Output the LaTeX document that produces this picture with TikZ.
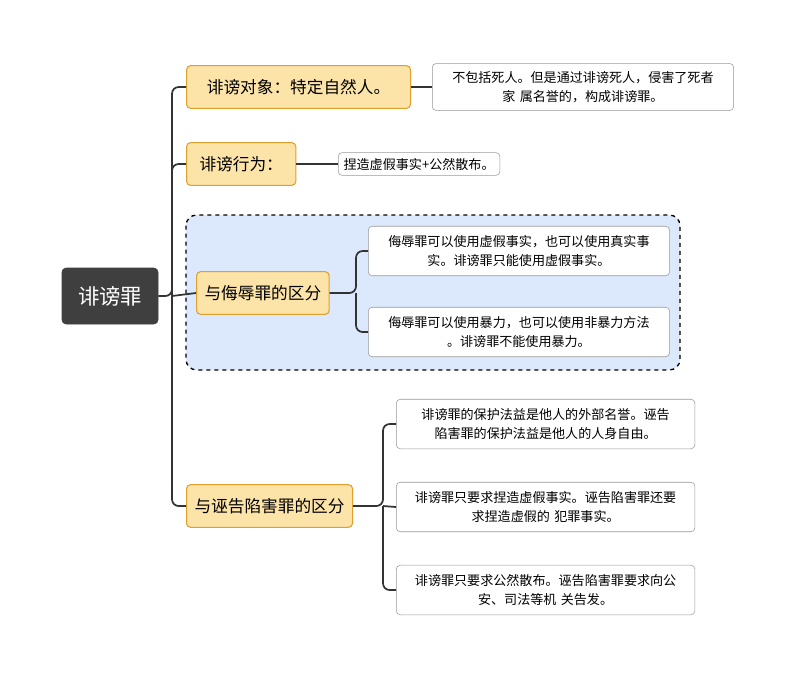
\documentclass[tikz,border=0pt]{standalone}
\usepackage{fontspec}
\setmainfont{Noto Sans CJK SC}
\usetikzlibrary{positioning}
\definecolor{rootfill}{HTML}{3F3F3F}
\definecolor{brfill}{HTML}{FCE3A8}
\definecolor{brline}{HTML}{E0A030}
\definecolor{grpfill}{HTML}{DCE8FC}
\definecolor{lnk}{HTML}{333333}
\tikzset{
    root/.style={draw=rootfill, fill=rootfill, rounded corners=3pt, text=white,
        minimum width=72pt, minimum height=42pt, font=\fontsize{16}{18}\selectfont},
    branch/.style={draw=brline, fill=brfill, rounded corners=3pt, line width=0.8pt,
        minimum height=32pt, inner xsep=6pt, font=\fontsize{12.5}{14}\selectfont, anchor=west},
    leaf/.style={draw=gray!80, fill=white, rounded corners=3pt, anchor=west,
        align=center, inner xsep=4pt, inner ysep=7pt, font=\fontsize{9.8}{14}\selectfont},
    link/.style={draw=lnk, line width=1.3pt, rounded corners=5pt}
}
\begin{document}
\begin{tikzpicture}[x=0.75pt, y=-0.75pt]
    \useasboundingbox (0,0) rectangle (793,675);

    % group background
    \draw[dashed, line width=1pt, fill=grpfill, rounded corners=8pt] (186,215) rectangle (680,370);

    \node[root] (r) at (110,296) {诽谤罪};

    \node[branch, minimum width=168pt] (b1) at (186,87) {诽谤对象：特定自然人。};
    \node[branch, minimum width=82pt] (b2) at (186,164) {诽谤行为：};
    \node[branch] (b3) at (196,293) {与侮辱罪的区分};
    \node[branch] (b4) at (186,506) {与诬告陷害罪的区分};

    \node[leaf, text width=218pt, inner ysep=6pt] (l1) at (432,87) {不包括死人。但是通过诽谤死人，侵害了死者\\家 属名誉的，构成诽谤罪。};
    \node[leaf, inner ysep=4pt] (l2) at (338,164) {捏造虚假事实+公然散布。};
    \node[leaf, text width=218pt] (l3) at (368,251) {侮辱罪可以使用虚假事实，也可以使用真实事\\实。诽谤罪只能使用虚假事实。};
    \node[leaf, text width=218pt] (l4) at (368,332) {侮辱罪可以使用暴力，也可以使用非暴力方法\\。诽谤罪不能使用暴力。};
    \node[leaf, text width=216pt] (l5) at (396,424) {诽谤罪的保护法益是他人的外部名誉。诬告\\陷害罪的保护法益是他人的人身自由。};
    \node[leaf, text width=216pt] (l6) at (396,507) {诽谤罪只要求捏造虚假事实。诬告陷害罪还要\\求捏造虚假的 犯罪事实。};
    \node[leaf, text width=216pt] (l7) at (396,590) {诽谤罪只要求公然散布。诬告陷害罪要求向公\\安、司法等机 关告发。};

    % connectors
    \draw[link] (r.east) -- (172,296) |- (b1.west);
    \draw[link] (172,296) |- (b2.west);
    \draw[link] (172,296) -- (b3.west);
    \draw[link] (172,296) |- (b4.west);
    \draw[link] (b1.east) -- (l1.west);
    \draw[link] (b2.east) -- (l2.west);
    \draw[link] (b3.east) -- (356,293) |- (l3.west);
    \draw[link] (356,293) |- (l4.west);
    \draw[link] (b4.east) -- (383,506) |- (l5.west);
    \draw[link] (383,506) -- (l6.west);
    \draw[link] (383,506) |- (l7.west);
\end{tikzpicture}
\end{document}
